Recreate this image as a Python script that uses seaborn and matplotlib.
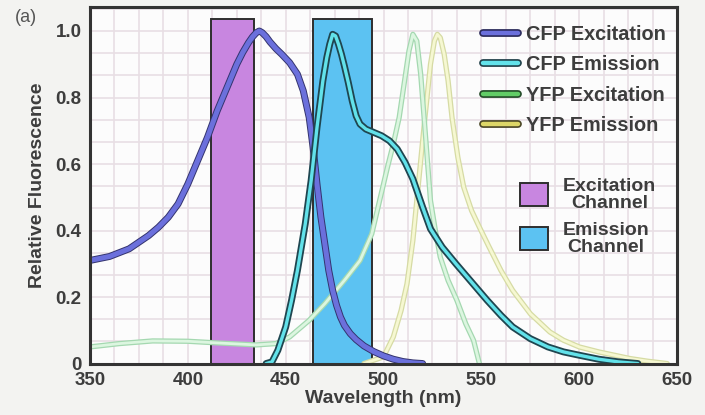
import matplotlib
matplotlib.use("Agg")
import matplotlib.pyplot as plt
import seaborn as sns
import pandas as pd
from matplotlib import patheffects as pe
from matplotlib.lines import Line2D
from matplotlib.patches import Patch
from matplotlib.ticker import MultipleLocator

# ---- spectra (wavelength in nm, normalised intensity) ----
cfp_ex_nm = [350, 360, 370, 380, 385, 390, 395, 400, 405, 410, 415, 420, 425, 428, 431,
             433, 435, 436.5, 438, 440, 442, 445, 448, 452, 456, 459, 462, 464, 466, 468,
             470, 472, 474, 476, 478, 480, 483, 486, 490, 495, 500, 505, 510, 515, 520]
cfp_ex_val = [0.31, 0.322, 0.345, 0.385, 0.41, 0.44, 0.48, 0.54, 0.61, 0.68, 0.76, 0.83,
              0.90, 0.935, 0.965, 0.982, 0.995, 1.0, 0.995, 0.983, 0.967, 0.947, 0.93,
              0.905, 0.87, 0.82, 0.74, 0.65, 0.54, 0.44, 0.36, 0.28, 0.22, 0.175, 0.14,
              0.115, 0.09, 0.072, 0.053, 0.036, 0.023, 0.013, 0.006, 0.002, 0.0]

cfp_em_nm = [440, 443, 446, 450, 453, 456, 460, 463, 466, 469, 471, 472.5, 474, 475.5, 477,
             478.5, 480, 482, 484, 486, 488, 491, 495, 499, 503, 507, 511, 515, 520, 524,
             530, 537, 545, 553, 560, 566, 575, 584, 592, 600, 610, 620, 630]
cfp_em_val = [0.0, 0.005, 0.04, 0.11, 0.19, 0.28, 0.42, 0.55, 0.71, 0.85, 0.92, 0.96, 0.99,
              0.985, 0.96, 0.93, 0.895, 0.845, 0.79, 0.745, 0.72, 0.705, 0.695, 0.685,
              0.67, 0.645, 0.605, 0.555, 0.47, 0.405, 0.35, 0.30, 0.245, 0.19, 0.145,
              0.11, 0.075, 0.05, 0.035, 0.025, 0.013, 0.005, 0.0]

yfp_ex_nm = [350, 365, 382, 400, 415, 435, 445, 452, 462, 470, 480, 488, 494, 498, 502,
             505, 508, 511, 513, 515, 517, 519, 521, 524, 526.5, 529, 533, 537.5, 542,
             546, 549]
yfp_ex_val = [0.05, 0.06, 0.068, 0.067, 0.062, 0.056, 0.06, 0.08, 0.13, 0.18, 0.25, 0.31,
              0.39, 0.49, 0.59, 0.66, 0.74, 0.86, 0.94, 0.99, 0.97, 0.87, 0.72, 0.49,
              0.40, 0.32, 0.25, 0.19, 0.12, 0.07, 0.0]

yfp_em_nm = [490, 500, 505, 509, 512, 515, 517, 519, 521, 524, 526, 527.5, 529, 531, 533,
             535, 538, 541, 545, 549, 554, 560, 566, 575, 585, 592, 600, 610, 618, 626,
             635, 645]
yfp_em_val = [0.0, 0.02, 0.08, 0.16, 0.24, 0.37, 0.49, 0.61, 0.73, 0.90, 0.97, 0.99, 0.98,
              0.93, 0.85, 0.74, 0.62, 0.53, 0.46, 0.41, 0.35, 0.28, 0.22, 0.15, 0.095,
              0.07, 0.05, 0.035, 0.025, 0.015, 0.007, 0.0]

# ---- filter channels: (start nm, end nm) ----
channel_names = ["Excitation\nChannel", "Emission\nChannel"]
channel_start = [412, 464]
channel_end = [434, 494]
channel_top = 1.035

series_names = ["CFP Excitation", "CFP Emission", "YFP Excitation", "YFP Emission"]

x_ticks = [350, 400, 450, 500, 550, 600, 650]
y_ticks = [0, 0.2, 0.4, 0.6, 0.8, 1.0]
y_tick_labels = ["0", "0.2", "0.4", "0.6", "0.8", "1.0"]

sns.set_theme(style="white")
plt.rcParams["font.family"] = ["Liberation Sans", "DejaVu Sans"]
plt.rcParams["font.weight"] = "bold"

TXT = "#3d3d3d"
SPINE = "#333333"

fig = plt.figure(figsize=(7.05, 4.15), dpi=100, facecolor="#f3f3f1")
ax = fig.add_axes([0.1277, 0.124, 0.8326, 0.859])
ax.set_facecolor("#fcfcfc")

# channel bars
chan_colors = ["#c886e0", "#5cc2f2"]
ax.bar(channel_start, [channel_top] * 2,
       width=[e - s for s, e in zip(channel_start, channel_end)],
       align="edge", color=chan_colors, edgecolor="#2e2e2e", linewidth=1.4, zorder=2)

# line styles: (centre colour, edge colour, outer width, inner width, zorder)
styles = {
    "YFP Emission": ("#f6f8d2", "#d6dba4", 3.8, 2.0, 3),
    "YFP Excitation": ("#dcf6e0", "#a4d8b0", 3.8, 2.0, 3.1),
    "CFP Excitation": ("#6b70dc", "#34346e", 5.0, 3.6, 4),
    "CFP Emission": ("#62e2ea", "#1f4650", 5.0, 2.4, 5),
}
data = {
    "CFP Excitation": (cfp_ex_nm, cfp_ex_val),
    "CFP Emission": (cfp_em_nm, cfp_em_val),
    "YFP Excitation": (yfp_ex_nm, yfp_ex_val),
    "YFP Emission": (yfp_em_nm, yfp_em_val),
}

for name in ["YFP Emission", "YFP Excitation", "CFP Excitation", "CFP Emission"]:
    nm, val = data[name]
    df = pd.DataFrame({"nm": nm, "val": val})
    center, edge, w_out, w_in, z = styles[name]
    sns.lineplot(data=df, x="nm", y="val", ax=ax, color=center, linewidth=w_in,
                 estimator=None, sort=False, legend=False)
    ln = ax.lines[-1]
    ln.set_zorder(z)
    ln.set_solid_joinstyle("round")
    ln.set_solid_capstyle("round")
    ln.set_path_effects([pe.Stroke(linewidth=w_out, foreground=edge, capstyle="round",
                                   joinstyle="round"), pe.Normal()])

ax.set_xlim(350, 650)
ax.set_ylim(0, 1.072)
ax.set_xticks(x_ticks)
ax.set_yticks(y_ticks)
ax.set_yticklabels(y_tick_labels)
ax.xaxis.set_minor_locator(MultipleLocator(12.5))
ax.yaxis.set_minor_locator(MultipleLocator(0.2 / 3))
ax.grid(which="both", color="#e8dfe4", linewidth=1.2, zorder=0)
ax.set_axisbelow(True)

ax.tick_params(which="major", direction="in", length=7.5, width=1.8, color=SPINE,
               labelsize=13.5, labelcolor=TXT, pad=6)
ax.tick_params(which="minor", length=0)
for lab in ax.get_xticklabels() + ax.get_yticklabels():
    lab.set_fontweight("bold")
for sp in ax.spines.values():
    sp.set_visible(True)
    sp.set_color(SPINE)
    sp.set_linewidth(2.2)
    sp.set_zorder(6)

ax.set_xlabel("Wavelength (nm)", fontsize=14, fontweight="bold", color=TXT, labelpad=1)
ax.set_ylabel("Relative Fluorescence", fontsize=14, fontweight="bold", color=TXT,
              labelpad=7)

# legend for the spectra
legend_look = {
    "CFP Excitation": ("#6b70dc", "#2a2a5a"),
    "CFP Emission": ("#62e2ea", "#1f3f48"),
    "YFP Excitation": ("#62cc66", "#244a28"),
    "YFP Emission": ("#ddd768", "#4a4626"),
}
handles = []
for name in series_names:
    c, e = legend_look[name]
    h = Line2D([], [], color=c, linewidth=3.2, solid_capstyle="round")
    h.set_path_effects([pe.Stroke(linewidth=5.6, foreground=e, capstyle="round"),
                        pe.Normal()])
    handles.append(h)
leg1 = ax.legend(handles, series_names, loc="upper left", bbox_to_anchor=(0.6695, 0.95),
                 frameon=False, borderpad=0, borderaxespad=0, handlelength=1.75,
                 handletextpad=0.4, labelspacing=0.57,
                 prop={"weight": "bold", "size": 14.3})
for t in leg1.get_texts():
    t.set_color(TXT)
ax.add_artist(leg1)

# legend for the channels
patches = [Patch(facecolor=c, edgecolor="#2e2e2e", linewidth=1.4) for c in chan_colors]
leg2 = ax.legend(patches, channel_names, loc="upper left", bbox_to_anchor=(0.7325, 0.52),
                 frameon=False, borderpad=0, borderaxespad=0, handlelength=1.45,
                 handleheight=1.45, handletextpad=0.75, labelspacing=0.55,
                 prop={"weight": "bold", "size": 14})
for t in leg2.get_texts():
    t.set_color(TXT)
    t.set_multialignment("center")
    t.set_linespacing(0.95)

fig.text(0.021, 1 - 18 / 415, "(a)", fontsize=13, fontweight="normal", color="#555555",
         va="center", ha="left")

fig.savefig("out.png", dpi=100, facecolor=fig.get_facecolor())
